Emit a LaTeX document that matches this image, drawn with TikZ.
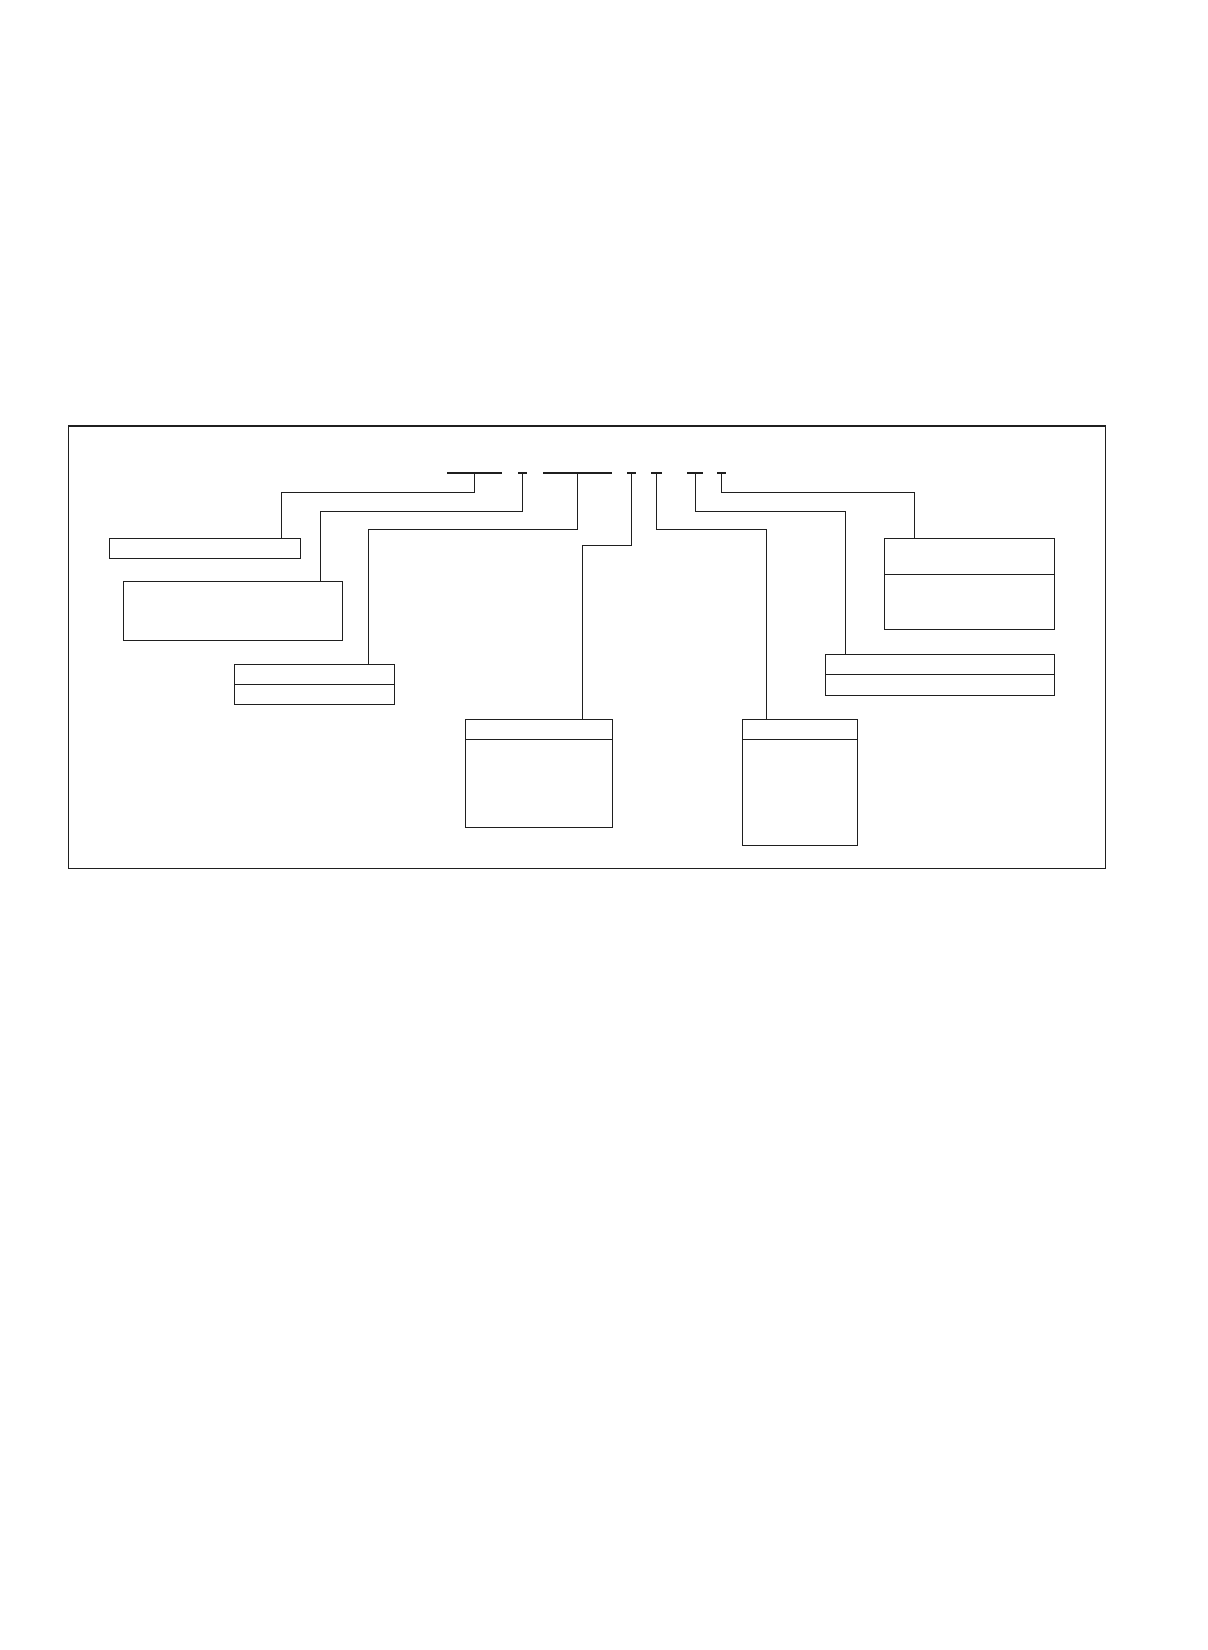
\documentclass[tikz,border=0pt]{standalone}
\begin{document}
\begin{tikzpicture}[x=1pt,y=-1pt,
  box/.style={draw=black!88, line width=1.3pt, inner sep=0pt, outer sep=0pt, anchor=north west},
  divline/.style={draw=black!88, line width=1.3pt},
  bar/.style={fill=black!88, inner sep=0pt, outer sep=0pt, minimum height=2.4pt, anchor=center},
  conn/.style={draw=black!88, line width=1pt}]
\useasboundingbox (0,0) rectangle (1208,1650);
% outer frame
\node[box, minimum width=1037.2pt, minimum height=442.3pt] (frame) at (68.3,426) {};
% code bars
\node[bar, minimum width=54.4pt] (b1) at (474.5,472.7) {};
\node[bar, minimum width=8.4pt]  (b2) at (522.5,472.7) {};
\node[bar, minimum width=68.4pt] (b3) at (577.5,472.7) {};
\node[bar, minimum width=8.7pt]  (b4) at (631.6,472.7) {};
\node[bar, minimum width=11pt]   (b5) at (656.5,472.7) {};
\node[bar, minimum width=15.4pt] (b6) at (695,472.7) {};
\node[bar, minimum width=8.7pt]  (b7) at (721.6,472.7) {};
% boxes
\node[box, minimum width=191.3pt, minimum height=20pt]  (boxA) at (109.5,538.3) {};
\node[box, minimum width=219.3pt, minimum height=59pt]  (boxB) at (123.2,581.3) {};
\node[box, minimum width=160pt,   minimum height=40.5pt] (boxC) at (234.6,664.3) {};
\node[box, minimum width=147pt,   minimum height=108pt] (boxD) at (465.3,719.3) {};
\node[box, minimum width=115.4pt, minimum height=126pt] (boxE) at (742.3,719.3) {};
\node[box, minimum width=229.3pt, minimum height=41pt]  (boxF) at (825.3,654.3) {};
\node[box, minimum width=169.9pt, minimum height=90.8pt] (boxG) at (884.7,538.5) {};
% dividers
\draw[divline] (boxC.west |- 0,684.3) -- (boxC.east |- 0,684.3);
\draw[divline] (boxD.west |- 0,739.3) -- (boxD.east |- 0,739.3);
\draw[divline] (boxE.west |- 0,739.3) -- (boxE.east |- 0,739.3);
\draw[divline] (boxF.west |- 0,674.3) -- (boxF.east |- 0,674.3);
\draw[divline] (boxG.west |- 0,574.3) -- (boxG.east |- 0,574.3);
% connector corners
\coordinate (j1) at (281.3,492.9);
\coordinate (j2) at (320.3,511.3);
\coordinate (j3) at (368.5,529.3);
\coordinate (j4) at (582.3,545.3);
\coordinate (j5) at (766.3,529.3);
\coordinate (j6) at (845.3,511.3);
\coordinate (j7) at (914.6,492.9);
% connectors
\draw[conn] (b1.south) |- (j1) -- (j1 |- boxA.north);
\draw[conn] (b2.south) |- (j2) -- (j2 |- boxB.north);
\draw[conn] (b3.south) |- (j3) -- (j3 |- boxC.north);
\draw[conn] (b4.south) |- (j4) -- (j4 |- boxD.north);
\draw[conn] (b5.south) |- (j5) -- (j5 |- boxE.north);
\draw[conn] (b6.south) |- (j6) -- (j6 |- boxF.north);
\draw[conn] (b7.south) |- (j7) -- (j7 |- boxG.north);
\end{tikzpicture}
\end{document}
